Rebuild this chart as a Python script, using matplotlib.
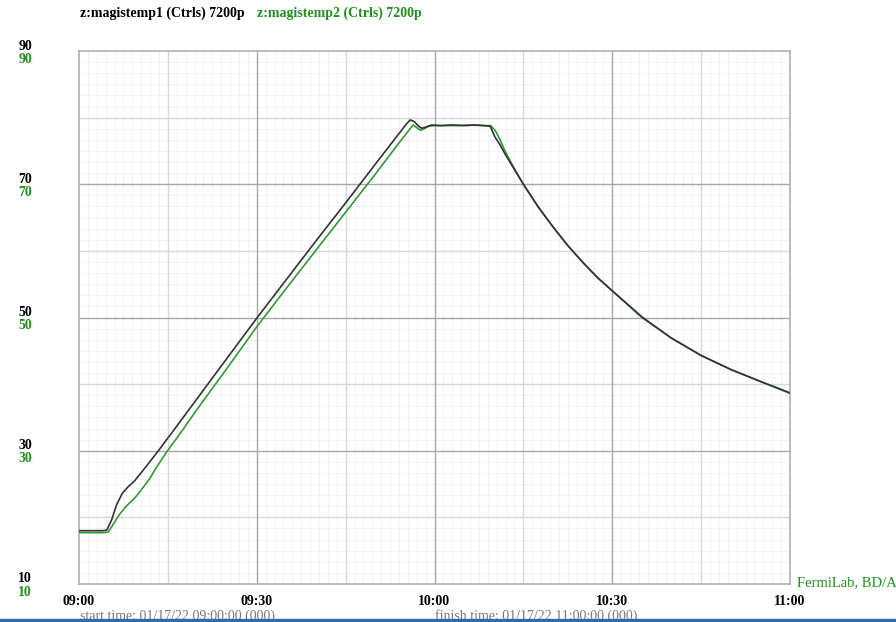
import matplotlib
matplotlib.use('Agg')
import matplotlib.pyplot as plt
from matplotlib.patches import Rectangle
from matplotlib import transforms

# minutes after 09:00 and temperature readings
t1 = [0, 2, 4, 4.7, 5.5, 6.3, 7.3, 8.3, 9.3, 10.5, 12, 13.4, 16, 20, 25, 30, 35, 40, 45,
      50, 54, 55.3, 55.9, 56.6, 57.2, 57.8, 58.6, 59.5, 61, 63, 65, 67, 68.5, 69.4,
      70.2, 71, 72, 73.5, 75, 77.5, 80, 82.5, 85, 87.5, 90, 95, 100, 105, 110, 115, 120]
v1 = [18.0, 18.0, 18.0, 18.1, 19.6, 21.8, 23.6, 24.6, 25.4, 26.7, 28.4, 30.0, 33.1, 37.9,
      43.9, 49.9, 55.7, 61.5, 67.2, 73.0, 77.6, 79.1, 79.65, 79.4, 78.8, 78.4, 78.6, 78.9,
      78.8, 78.9, 78.8, 78.9, 78.8, 78.7, 77.1, 76.0, 74.4, 72.2, 70.0, 66.6, 63.6, 60.8,
      58.3, 56.0, 54.0, 50.1, 46.9, 44.3, 42.2, 40.4, 38.7]

t2 = [0, 2, 4, 4.95, 5.8, 6.8, 7.9, 8.8, 9.6, 11, 12, 13, 14.7, 17, 20, 25, 30, 35, 40, 45,
      50, 54, 55.5, 56.4, 57, 57.6, 58.2, 59, 60, 62, 64, 66, 68, 69.5, 70.3, 71, 72,
      73.5, 75, 77.5, 80, 82.5, 85, 87.5, 90, 95, 100, 105, 110, 115, 120]
v2 = [17.7, 17.7, 17.7, 17.8, 19.0, 20.4, 21.6, 22.4, 23.1, 24.7, 25.9, 27.4, 29.7, 32.5,
      36.3, 42.4, 48.6, 54.4, 60.1, 65.8, 71.5, 76.2, 77.9, 78.9, 78.5, 78.1, 78.3, 78.7,
      78.8, 78.8, 78.8, 78.9, 78.8, 78.8, 78.0, 76.8, 74.8, 72.3, 70.0, 66.6, 63.6, 60.8,
      58.3, 56.0, 54.0, 50.0, 46.9, 44.3, 42.2, 40.4, 38.6]

x_ticks = [0, 30, 60, 90, 120]
x_labels = ['09:00', '09:30', '10:00', '10:30', '11:00']
y_ticks = [10, 30, 50, 70, 90]

green = '#33993a'
text_green = '#1f8f1f'
serif = 'Liberation Serif'

fig = plt.figure(figsize=(8.96, 6.22), dpi=100)
ax = fig.add_axes([79 / 896, 38 / 622, 711 / 896, 533 / 622])
ax.set_xlim(0, 120)
ax.set_ylim(10, 90)

# fine grid
for i in range(1, 80):
    x = i * 1.5
    if x % 15:
        ax.axvline(x, color='#f3f3f3', lw=0.8, zorder=0)
for i in range(1, 48):
    y = 10 + i * 10 / 6
    if abs((y - 10) % 10) > 0.01 and abs((y - 10) % 10 - 10) > 0.01:
        ax.axhline(y, color='#f3f3f3', lw=0.8, zorder=0)
# medium grid
for x in [15, 45, 75, 105]:
    ax.axvline(x, color='#d8d8d8', lw=1, zorder=1)
for y in [20, 40, 60, 80]:
    ax.axhline(y, color='#d8d8d8', lw=1, zorder=1)
# major grid
for x in [30, 60, 90]:
    ax.axvline(x, color='#a8a8a8', lw=1, zorder=1)
for y in [30, 50, 70]:
    ax.axhline(y, color='#a8a8a8', lw=1, zorder=1)

for s in ax.spines.values():
    s.set_color('#b0b0b0')
    s.set_linewidth(1.2)

ax.plot(t2, v2, color=green, lw=1.2, zorder=3)
ax.plot(t1, v1, color='#333333', lw=1.2, zorder=4)

ax.set_xticks(x_ticks)
ax.set_xticklabels(x_labels, fontfamily=serif, fontweight='bold', fontsize=10)
ax.tick_params(axis='x', length=0, pad=8)
ax.set_yticks(y_ticks)
ax.set_yticklabels([])
ax.tick_params(axis='y', length=0)

tr = transforms.blended_transform_factory(fig.transFigure, ax.transData)
for y in y_ticks:
    ax.text(25 / 896, y, str(y), transform=tr + transforms.ScaledTranslation(0, 3.6 / 72, fig.dpi_scale_trans),
            ha='center', va='center', fontfamily=serif, fontweight='bold', fontsize=10, color='black')
    ax.text(25 / 896, y, str(y), transform=tr + transforms.ScaledTranslation(0, -5.8 / 72, fig.dpi_scale_trans),
            ha='center', va='center', fontfamily=serif, fontweight='bold', fontsize=10, color=text_green)

fig.text(80 / 896, 1 - 13 / 622, 'z:magistemp1 (Ctrls) 7200p', ha='left', va='center',
         fontfamily=serif, fontweight='bold', fontsize=10, color='black')
fig.text(257 / 896, 1 - 13 / 622, 'z:magistemp2 (Ctrls) 7200p', ha='left', va='center',
         fontfamily=serif, fontweight='bold', fontsize=10, color=text_green)

fig.text(797 / 896, 1 - 583 / 622, 'FermiLab, BD/AD', ha='left', va='center',
         fontfamily=serif, fontsize=10.5, color=text_green)
fig.text(80 / 896, 1 - 616 / 622, 'start time: 01/17/22 09:00:00 (000)', ha='left', va='center',
         fontfamily=serif, fontsize=10, color='#777777')
fig.text(435 / 896, 1 - 616 / 622, 'finish time: 01/17/22 11:00:00 (000)', ha='left', va='center',
         fontfamily=serif, fontsize=10, color='#777777')

fig.patches.append(Rectangle((0, 0), 1, 3 / 622, transform=fig.transFigure,
                             color='#2b6ea8', zorder=10))

fig.savefig('out.png', dpi=100)
